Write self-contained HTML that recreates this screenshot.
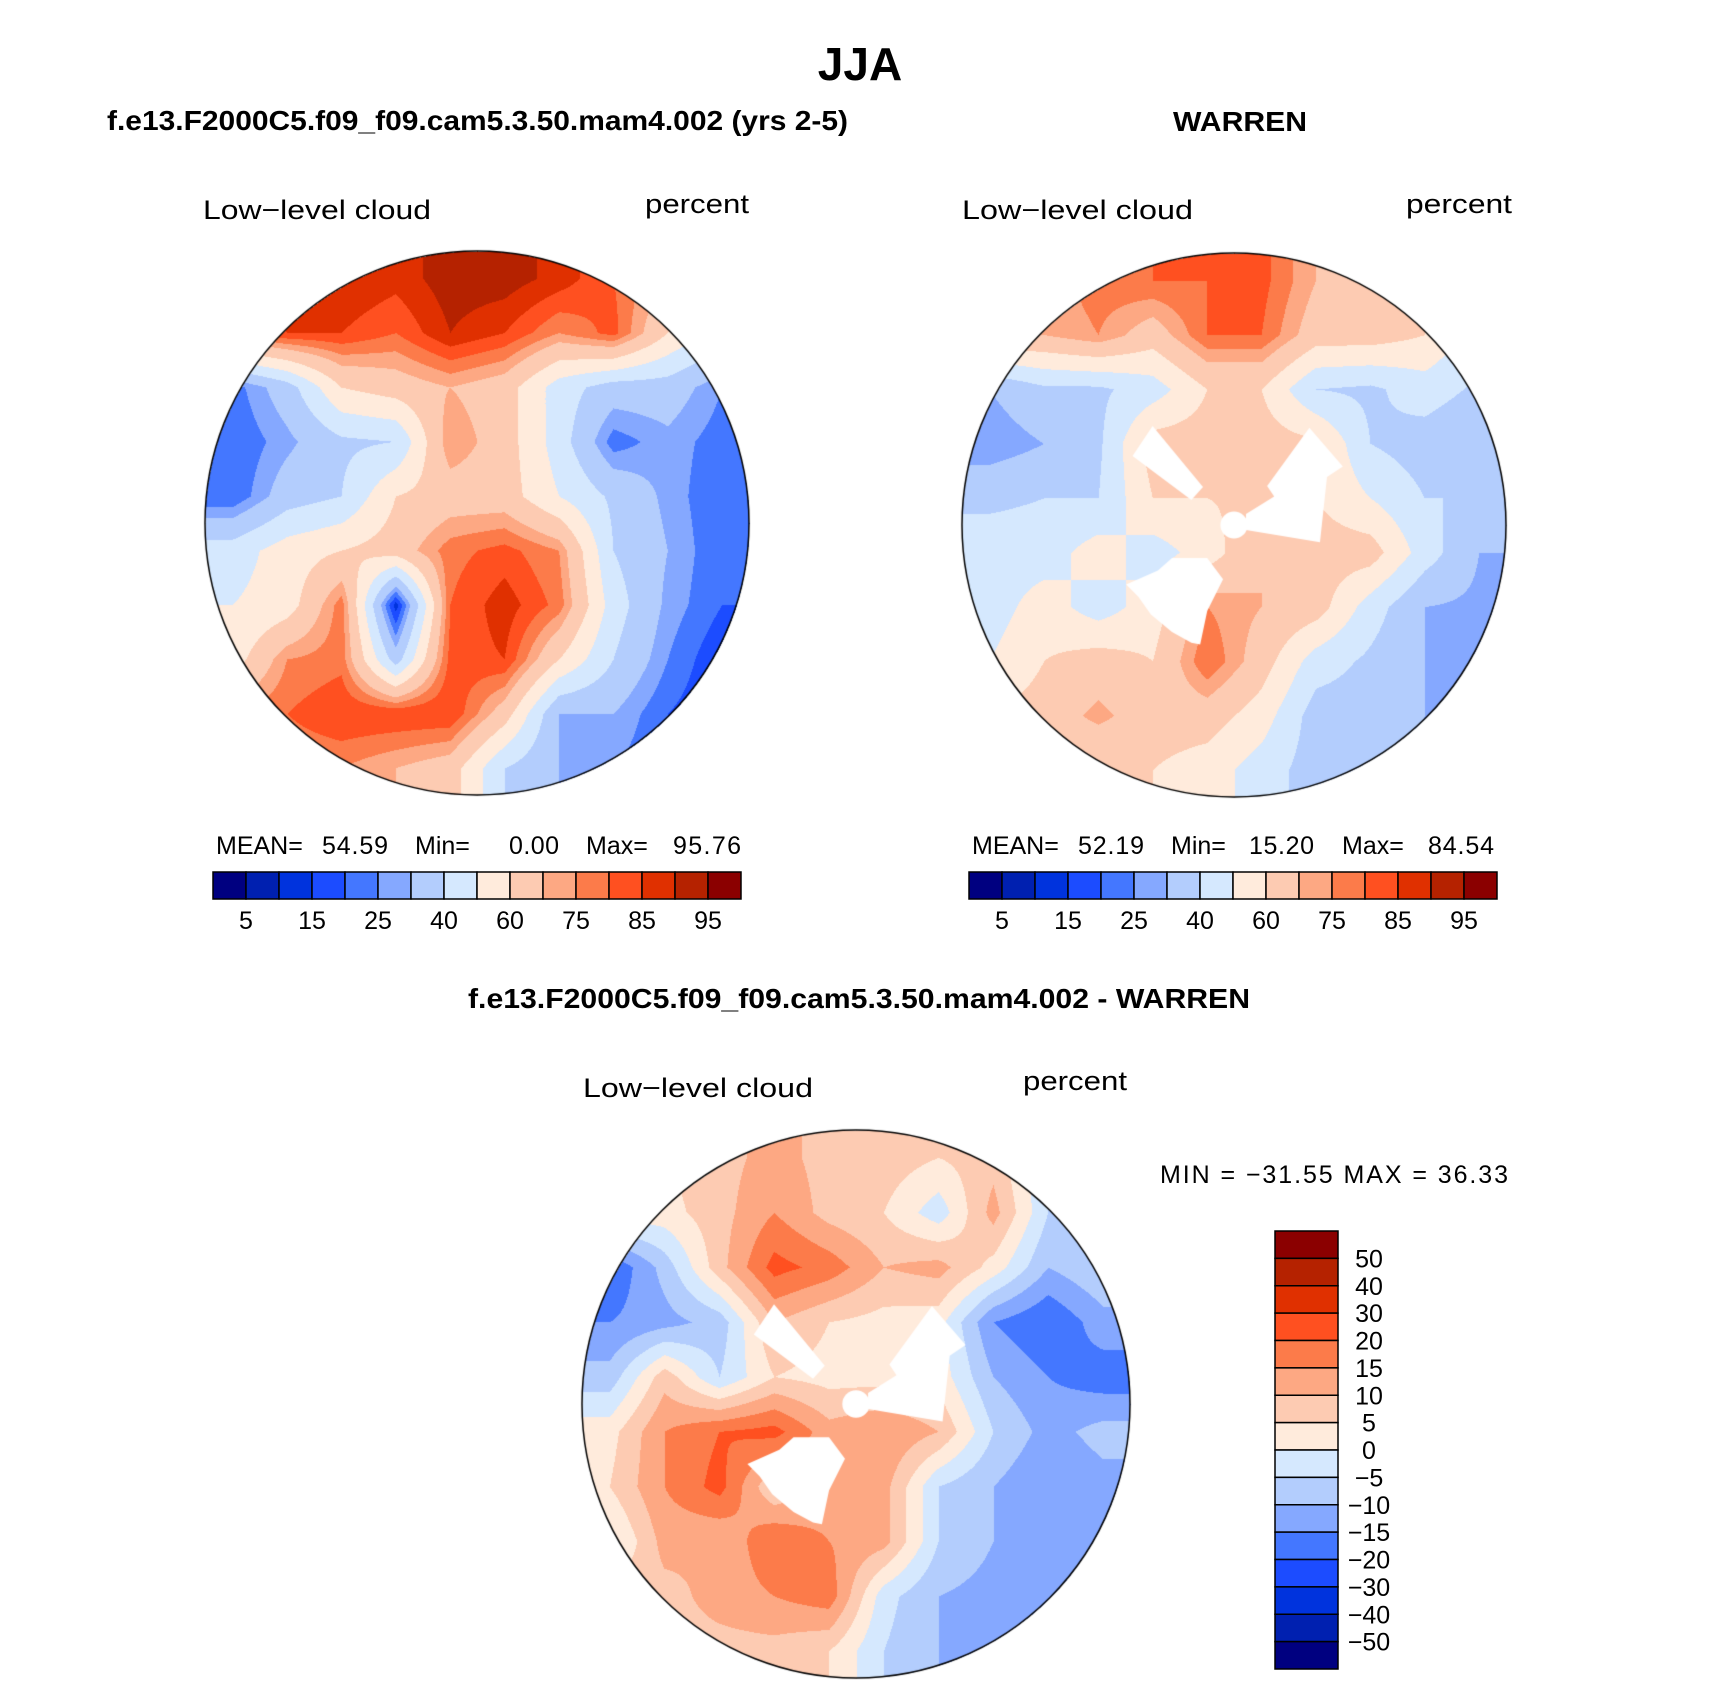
<!DOCTYPE html>
<html><head><meta charset="utf-8"><title>JJA Low-level cloud</title>
<style>
html,body{margin:0;padding:0;background:#fff;}
#page{position:relative;width:1710px;height:1681px;overflow:hidden;background:#fff;}
canvas{position:absolute;}
svg{position:absolute;left:0;top:0;}
</style></head>
<body>
<div id="page">
<canvas id="mapA"></canvas>
<canvas id="mapB"></canvas>
<canvas id="mapC"></canvas>
<svg id="ov" width="1710" height="1681" font-family="Liberation Sans, sans-serif">
<text x="860" y="80" text-anchor="middle" font-weight="bold" font-size="46">JJA</text>
<text x="107" y="130" font-weight="bold" font-size="28" textLength="741" lengthAdjust="spacingAndGlyphs">f.e13.F2000C5.f09_f09.cam5.3.50.mam4.002 (yrs 2-5)</text>
<text x="1173" y="131" font-weight="bold" font-size="28" textLength="134" lengthAdjust="spacingAndGlyphs">WARREN</text>
<text x="203" y="219" font-size="27" textLength="228" lengthAdjust="spacingAndGlyphs">Low−level cloud</text>
<text x="645" y="213" font-size="27" textLength="104" lengthAdjust="spacingAndGlyphs">percent</text>
<text x="962" y="219" font-size="27" textLength="231" lengthAdjust="spacingAndGlyphs">Low−level cloud</text>
<text x="1406" y="213" font-size="27" textLength="106" lengthAdjust="spacingAndGlyphs">percent</text>
<g font-size="25">
<text x="216" y="854">MEAN=</text><text x="322" y="854" textLength="66">54.59</text>
<text x="415" y="854">Min=</text><text x="509" y="854" textLength="50">0.00</text>
<text x="586" y="854">Max=</text><text x="673" y="854" textLength="68">95.76</text>
</g>
<g font-size="25">
<text x="972" y="854">MEAN=</text><text x="1078" y="854" textLength="66">52.19</text>
<text x="1171" y="854">Min=</text><text x="1249" y="854" textLength="65">15.20</text>
<text x="1342" y="854">Max=</text><text x="1428" y="854" textLength="66">84.54</text>
</g>
<text x="859" y="1008" text-anchor="middle" font-weight="bold" font-size="28" textLength="782" lengthAdjust="spacingAndGlyphs">f.e13.F2000C5.f09_f09.cam5.3.50.mam4.002 - WARREN</text>
<text x="583" y="1097" font-size="27" textLength="230" lengthAdjust="spacingAndGlyphs">Low−level cloud</text>
<text x="1023" y="1090" font-size="27" textLength="104" lengthAdjust="spacingAndGlyphs">percent</text>
<text x="1160" y="1183" font-size="25" textLength="348" lengthAdjust="spacing">MIN = −31.55 MAX =  36.33</text>
<g id="cbars"></g>
</svg>
</div>
<script>
// ---------- data ----------
const modelLevels = [5,10,15,20,25,30,40,50,60,70,75,80,85,90,95];
const modelTickLabels = ["5","15","25","40","60","75","85","95"];
const diffLevels = [-50,-40,-30,-20,-15,-10,-5,0,5,10,15,20,30,40,50];
const diffTickLabels = ["50","40","30","20","15","10","5","0","−5","−10","−15","−20","−30","−40","−50"];
const palette = ["#000080","#0020b0","#0033dd","#1c4cff","#4477ff","#85a8ff","#b3cdfd","#d5e8fe","#ffebdc","#fdcbb2","#fda883","#fc7b4a","#ff5020","#e03000","#b52200","#8b0000"];
// 10x10 grids (rows top->bottom) sampled from the maps
const modelGrid = [
 [85,88,90,87,93,93,88,80,70,60],
 [80,85,85,80,90,85,75,82,60,45],
 [22,35,60,65,70,65,45,35,35,25],
 [20,28,38,40,75,65,45,22,28,22],
 [20,35,40,60,65,65,50,38,28,20],
 [45,55,60,65,78,82,75,40,30,20],
 [50,55,78,12,80,88,78,45,28,20],
 [55,75,78,35,82,85,60,40,25,15],
 [75,80,85,85,85,65,30,30,20,15],
 [75,75,75,70,65,40,30,25,20,15]];
const warrenGrid = [
 [70,72,78,80,80,82,70,65,60,50],
 [70,70,75,65,80,80,65,65,60,45],
 [30,38,38,45,60,60,40,38,45,38],
 [25,30,38,65,65,65,62,40,35,30],
 [38,40,40,60,60,62,60,50,40,40],
 [45,45,55,45,55,70,65,65,45,30],
 [45,55,45,55,75,70,65,45,30,28],
 [50,60,65,60,80,65,45,38,30,25],
 [60,65,72,65,65,55,35,35,30,25],
 [60,60,60,60,55,45,35,30,28,25]];
const diffGrid = [
 [3,5,8,12,8,8,5,8,-5,-8],
 [3,3,8,15,8,5,-3,12,-5,-8],
 [-20,-8,8,22,18,10,12,3,-10,-5],
 [-15,-12,-8,10,5,3,2,-15,-20,-12],
 [-8,8,-5,5,3,3,3,-10,-15,-18],
 [3,15,20,22,12,15,10,-5,-12,-8],
 [5,15,22,5,12,12,-5,-10,-15,-12],
 [-2,12,10,20,15,12,-5,-10,-12,-10],
 [8,8,12,15,18,-3,-10,-12,-15,-12],
 [8,8,8,8,5,-5,-10,-12,-12,-12]];

// ---------- geometry ----------
const maps = [
 {id:"mapA", cx:477, cy:523, r:272, grid:modelGrid, levels:modelLevels, mask:false},
 {id:"mapB", cx:1234, cy:525, r:272, grid:warrenGrid, levels:warrenLevelsOrModel(), mask:true},
 {id:"mapC", cx:856, cy:1404, r:274, grid:diffGrid, levels:diffLevels, mask:true}
];
function warrenLevelsOrModel(){ return modelLevels; }
// missing-data mask polygons, in units of radius relative to pole
const maskPolys = [
 [[545,495],[688,668],[655,705],[488,580]],
 [[810,745],[890,695],[870,665],[990,500],[1085,610],[1040,640],[1020,825],[810,790]],
 [[470,945],[560,905],[600,870],[700,870],[745,930],[700,1020],[680,1115],[655,1110],[600,1080],[540,1030],[505,980]]
].map(p=>p.map(([x,y])=>[(x-776)/772,(y-776)/772]));

function levelIndex(v, lv){ let i=0; while(i<lv.length && v>=lv[i]) i++; return i; }
function hex(c){ return [parseInt(c.slice(1,3),16),parseInt(c.slice(3,5),16),parseInt(c.slice(5,7),16)]; }
const rgb = palette.map(hex);

function sample(grid, u, v){ // u,v in 0..1
  const n=grid.length;
  let x=u*n-0.5, y=v*n-0.5;
  x=Math.max(0,Math.min(n-1,x)); y=Math.max(0,Math.min(n-1,y));
  const x0=Math.min(n-2,Math.floor(x)), y0=Math.min(n-2,Math.floor(y));
  const fx=x-x0, fy=y-y0;
  const a=grid[y0][x0], b=grid[y0][x0+1], c=grid[y0+1][x0], d=grid[y0+1][x0+1];
  return a*(1-fx)*(1-fy)+b*fx*(1-fy)+c*(1-fx)*fy+d*fx*fy;
}

maps.forEach(m=>{
  const cv=document.getElementById(m.id);
  const S=2*m.r+4;
  cv.width=S; cv.height=S;
  cv.style.left=(m.cx-m.r-2)+"px"; cv.style.top=(m.cy-m.r-2)+"px";
  const ctx=cv.getContext("2d");
  const img=ctx.createImageData(S,S);
  for(let j=0;j<S;j++){
    for(let i=0;i<S;i++){
      const dx=i-2-m.r, dy=j-2-m.r;
      if(dx*dx+dy*dy>m.r*m.r) continue;
      const val=sample(m.grid,(i-2)/(2*m.r),(j-2)/(2*m.r));
      const c=rgb[levelIndex(val,m.levels)];
      const k=(j*S+i)*4;
      img.data[k]=c[0];img.data[k+1]=c[1];img.data[k+2]=c[2];img.data[k+3]=255;
    }
  }
  ctx.putImageData(img,0,0);
  const C=m.r+2;
  if(m.mask){
    ctx.fillStyle="#fff";
    maskPolys.forEach(p=>{
      ctx.beginPath();
      p.forEach(([x,y],q)=>{const X=C+x*m.r,Y=C+y*m.r; q?ctx.lineTo(X,Y):ctx.moveTo(X,Y);});
      ctx.closePath(); ctx.fill();
    });
    ctx.beginPath(); ctx.arc(C,C,m.r*0.05,0,Math.PI*2); ctx.fill();
  }
  ctx.strokeStyle="#000"; ctx.lineWidth=1.5;
  ctx.beginPath(); ctx.arc(C,C,m.r,0,Math.PI*2); ctx.stroke();
});

// ---------- colorbars ----------
const NS="http://www.w3.org/2000/svg";
const cb=document.getElementById("cbars");
function hbar(x0,y0,w,h,name){
  const g=document.createElementNS(NS,"g");
  
  
  const bw=w/palette.length;
  palette.forEach((c,i)=>{
    const r=document.createElementNS(NS,"rect");
    r.setAttribute("x",x0+i*bw); r.setAttribute("y",y0); r.setAttribute("width",bw); r.setAttribute("height",h);
    r.setAttribute("fill",c); r.setAttribute("stroke","#000"); r.setAttribute("stroke-width","1.5");
    
    
    g.appendChild(r);
  });
  modelTickLabels.forEach((t,k)=>{
    const tx=document.createElementNS(NS,"text");
    tx.setAttribute("x",x0+(2*k+1)*bw); tx.setAttribute("y",y0+h+30);
    tx.setAttribute("text-anchor","middle"); tx.setAttribute("font-size","25");
    tx.textContent=t;
    
    
    g.appendChild(tx);
  });
  cb.appendChild(g);
}
hbar(213,872,528,27,"model-colorbar");
hbar(969,872,528,27,"warren-colorbar");
(function(){
  const g=document.createElementNS(NS,"g");
  
  
  const x0=1275,y0=1231,w=63,h=438,bh=h/palette.length;
  palette.slice().reverse().forEach((c,i)=>{
    const r=document.createElementNS(NS,"rect");
    r.setAttribute("x",x0); r.setAttribute("y",y0+i*bh); r.setAttribute("width",w); r.setAttribute("height",bh);
    r.setAttribute("fill",c); r.setAttribute("stroke","#000"); r.setAttribute("stroke-width","1.5");
    
    
    g.appendChild(r);
  });
  diffTickLabels.forEach((t,k)=>{
    const tx=document.createElementNS(NS,"text");
    tx.setAttribute("x",1369); tx.setAttribute("y",y0+(k+1)*bh+9);
    tx.setAttribute("text-anchor","middle"); tx.setAttribute("font-size","25");
    tx.textContent=t;
    
    
    g.appendChild(tx);
  });
  cb.appendChild(g);
})();
</script>
</body></html>
